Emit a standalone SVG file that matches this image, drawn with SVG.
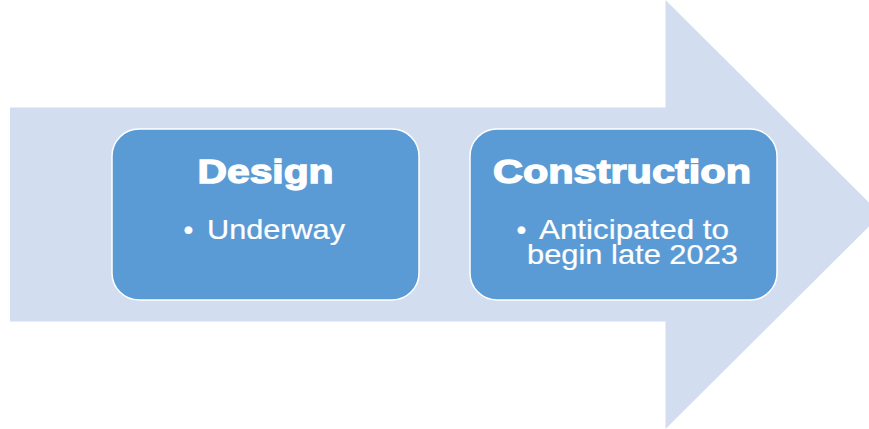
<svg xmlns="http://www.w3.org/2000/svg" width="869" height="429" viewBox="0 0 869 429">
<style>
.box{fill:#5B9BD5;stroke:#FFFFFF;stroke-width:1.5}
.title{font-family:"Liberation Sans",Arial,sans-serif;font-weight:bold;font-size:33px;fill:#FFFFFF;stroke:#FFFFFF;stroke-width:1.3;text-anchor:start}
.body{font-family:"Liberation Sans",Arial,sans-serif;font-size:28px;fill:#FFFFFF;stroke:#FFFFFF;stroke-width:0.2;text-anchor:start}
</style>
<rect width="869" height="429" fill="#FFFFFF"/>
<g id="arrow">
<polygon points="10,107.5 665.5,107.5 665.5,0 881,214.5 665.5,429 665.5,321.5 10,321.5" fill="#D2DEEF"/>
</g>
<g id="design">
<rect class="box" x="112" y="129" width="307" height="171" rx="27" ry="27"/>
<text class="title" x="197.5" y="183.3" textLength="136" lengthAdjust="spacingAndGlyphs">Design</text>
<text class="body" y="238.5"><tspan x="183.5">• </tspan><tspan x="207" textLength="138" lengthAdjust="spacingAndGlyphs">Underway</tspan></text>
</g>
<g id="construction">
<rect class="box" x="470" y="129" width="307" height="171" rx="27" ry="27"/>
<text class="title" x="493" y="182.5" textLength="258" lengthAdjust="spacingAndGlyphs">Construction</text>
<text class="body"><tspan x="516.5" y="238.5">• </tspan><tspan x="539" y="238.5" textLength="190" lengthAdjust="spacingAndGlyphs">Anticipated to</tspan><tspan x="527" y="263.5" textLength="211" lengthAdjust="spacingAndGlyphs">begin late 2023</tspan></text>
</g>
<g id="connectors"></g>
</svg>
